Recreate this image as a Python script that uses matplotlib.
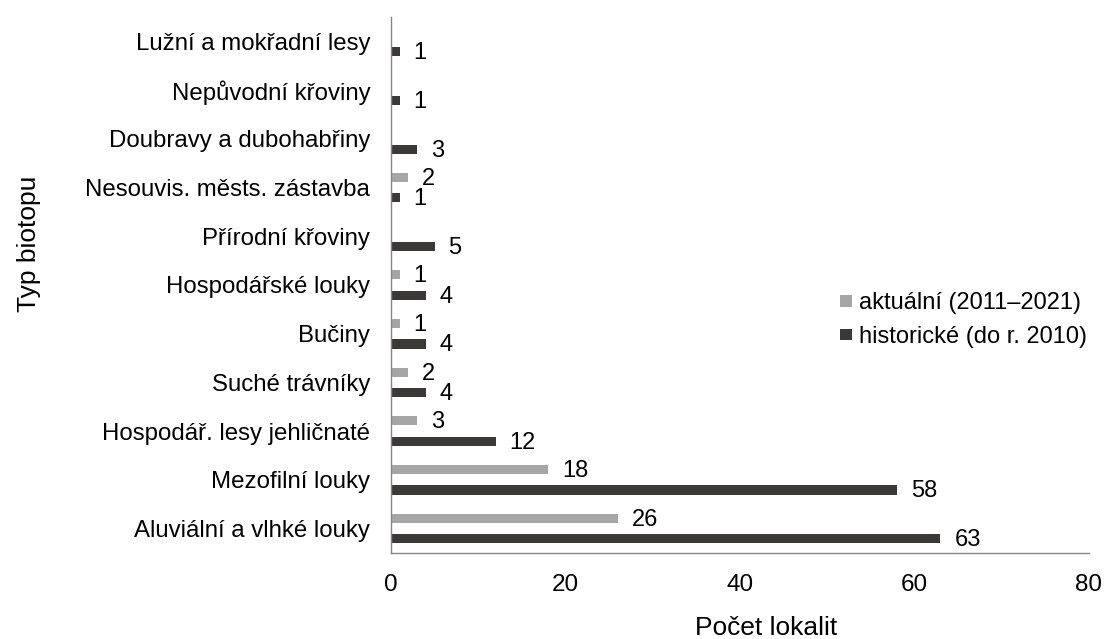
import matplotlib.pyplot as plt
import numpy as np

plt.rcParams['font.family'] = ['Liberation Sans', 'DejaVu Sans']

# Kategorie (odspodu nahoru)
kategorie = [
    "Aluviální a vlhké louky",
    "Mezofilní louky",
    "Hospodář. lesy jehličnaté",
    "Suché trávníky",
    "Bučiny",
    "Hospodářské louky",
    "Přírodní křoviny",
    "Nesouvis. městs. zástavba",
    "Doubravy a dubohabřiny",
    "Nepůvodní křoviny",
    "Lužní a mokřadní lesy",
]
aktualni = [26, 18, 3, 2, 1, 1, 0, 2, 0, 0, 0]
historicke = [63, 58, 12, 4, 4, 4, 5, 1, 3, 1, 1]

x_ticks = [0, 20, 40, 60, 80]

barva_akt = "#A6A6A6"
barva_hist = "#3B3838"

fig = plt.figure(figsize=(11.04, 6.39), dpi=100)
ax = fig.add_axes([0.3542, 0.135, 0.632, 0.838])

y = np.arange(len(kategorie))
vyska = 0.19
posun = 0.21

b1 = ax.barh(y + posun, aktualni, height=vyska, color=barva_akt,
             label="aktuální (2011–2021)")
b2 = ax.barh(y - posun, historicke, height=vyska, color=barva_hist,
             label="historické (do r. 2010)")

# Popisky hodnot
for yi, v in zip(y + posun, aktualni):
    if v > 0:
        ax.annotate(str(v), (v, yi), xytext=(10, -1), textcoords="offset points",
                    va="center", ha="left", fontsize=17)
for yi, v in zip(y - posun, historicke):
    if v > 0:
        ax.annotate(str(v), (v, yi), xytext=(10, -1), textcoords="offset points",
                    va="center", ha="left", fontsize=17)

ax.set_xlim(0, 80)
ax.set_ylim(-0.5, len(kategorie) - 0.5)
ax.set_xticks(x_ticks)
ax.set_xticklabels([str(t) for t in x_ticks], fontsize=17.5)
ax.set_yticks(y)
ax.set_yticklabels(kategorie, fontsize=17.3)
ax.tick_params(axis="y", length=0, pad=15)
ax.tick_params(axis="x", length=0, pad=15)

for s in ["top", "right"]:
    ax.spines[s].set_visible(False)
for s in ["left", "bottom"]:
    ax.spines[s].set_color("#868686")
    ax.spines[s].set_linewidth(1.0)

fig.text(0.694, 1 - 635 / 639, "Počet lokalit", fontsize=19,
         ha="center", va="baseline")
fig.text(29 / 1104, 1 - 244 / 639, "Typ biotopu", fontsize=19,
         ha="center", va="center", rotation=90)

fig.legend(handles=[b1, b2], loc="center left", bbox_to_anchor=(0.742, 0.4992),
           frameon=False, fontsize=17, handlelength=0.5, handleheight=0.4,
           handletextpad=0.3, labelspacing=0.5)

fig.savefig("out.png", dpi=100)
